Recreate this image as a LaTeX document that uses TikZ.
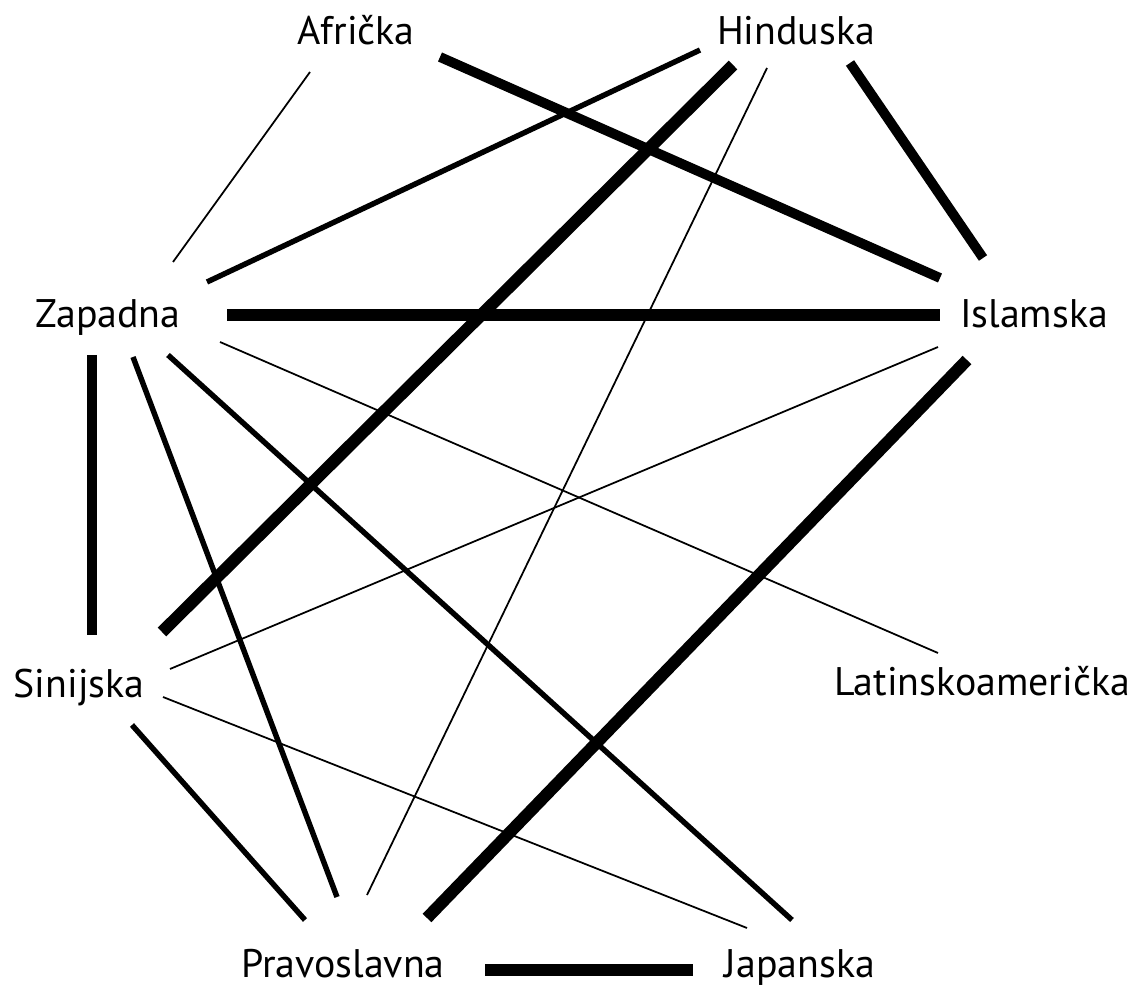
\documentclass[tikz,border=0pt]{standalone}
\usepackage{fontspec}
\setmainfont{PT Sans}
\usepackage{tikz}

\begin{document}
\begin{tikzpicture}[
    x=0.02cm, y=-0.02cm,
    lbl/.style={anchor=base, inner sep=0pt, font=\fontsize{22.7}{27}\selectfont},
    slaba/.style={line width=1pt},
    srednja/.style={line width=3.1pt},
    jaka/.style={line width=5.6pt},
    najjaca/.style={line width=6.9pt}
  ]
  \useasboundingbox (0,0) rectangle (1136,986);
  % civilizacije
  \node[lbl] (afr) at (356,45)  {Afrička};
  \node[lbl] (hin) at (796,45)  {Hinduska};
  \node[lbl] (zap) at (108,328) {Zapadna};
  \node[lbl] (isl) at (1034,328) {Islamska};
  \node[lbl] (sin) at (79,697)  {Sinijska};
  \node[lbl] (lat) at (982,695) {Latinskoamerička};
  \node[lbl] (pra) at (343,977) {Pravoslavna};
  \node[lbl] (jap) at (800,977) {Japanska};
  % krajevi veza
  \foreach \n/\x/\y in {afr-zap/310/72, zap-afr/173/262,
                        afr-isl/440/57, isl-afr/940/278,
                        hin-zap/700/50, zap-hin/207/282,
                        hin-sin/733/65, sin-hin/162/632,
                        hin-pra/767/68, pra-hin/367/895,
                        hin-isl/850/63, isl-hin/983/258,
                        zap-isl/227/315, isl-zap/940/315,
                        zap-lat/220/342, lat-zap/938/653,
                        zap-jap/168/355, jap-zap/792/920,
                        zap-pra/133/357, pra-zap/337/897,
                        zap-sin/92/355, sin-zap/92/635,
                        isl-sin/938/347, sin-isl/170/669,
                        isl-pra/967/360, pra-isl/427/918,
                        sin-jap/163/697, jap-sin/747/928,
                        sin-pra/132/725, pra-sin/305/920,
                        pra-jap/485/970, jap-pra/693/970}
    \coordinate (\n) at (\x,\y);
  % slabe veze
  \draw[slaba] (afr-zap) -- (zap-afr);
  \draw[slaba] (hin-pra) -- (pra-hin);
  \draw[slaba] (zap-lat) -- (lat-zap);
  \draw[slaba] (isl-sin) -- (sin-isl);
  \draw[slaba] (sin-jap) -- (jap-sin);
  % srednje veze
  \draw[srednja] (hin-zap) -- (zap-hin);
  \draw[srednja] (zap-pra) -- (pra-zap);
  \draw[srednja] (zap-jap) -- (jap-zap);
  \draw[srednja] (sin-pra) -- (pra-sin);
  % jake veze
  \draw[jaka] (afr-isl) -- (isl-afr);
  \draw[jaka] (hin-isl) -- (isl-hin);
  \draw[jaka] (zap-sin) -- (sin-zap);
  % najjace veze
  \draw[najjaca] (hin-sin) -- (sin-hin);
  \draw[najjaca] (zap-isl) -- (isl-zap);
  \draw[najjaca] (isl-pra) -- (pra-isl);
  \draw[najjaca] (pra-jap) -- (jap-pra);
\end{tikzpicture}
\end{document}
